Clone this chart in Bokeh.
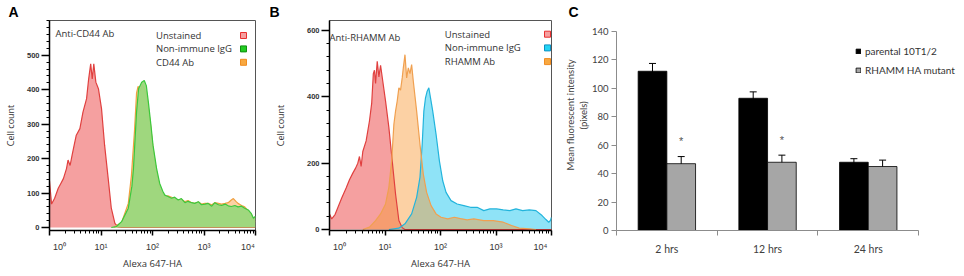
import numpy as np
from bokeh.plotting import figure
from bokeh.layouts import row
from bokeh.models import (Range1d, FixedTicker, Label, BoxAnnotation, ColumnDataSource,
                          Whisker, TeeHead, Legend, LegendItem, Title)
from bokeh.core.properties import value
from bokeh.embed import file_html
from bokeh.resources import INLINE

# ---------------- data ----------------
# Panels A and B: x = log10(Alexa 647-HA intensity), y = cell count
a_unstained_exp = [0.00, 0.04, 0.10, 0.17, 0.22, 0.27, 0.33, 0.36, 0.40, 0.44, 0.48, 0.52, 0.59,
                   0.65, 0.72, 0.76, 0.80, 0.83, 0.86, 0.90, 0.95, 1.01, 1.07, 1.14, 1.20, 1.27,
                   1.33, 1.40, 4.00]
a_unstained_cnt = [135, 68, 85, 114, 128, 142, 171, 196, 180, 211, 240, 268, 287,
                   335, 374, 431, 475, 431, 475, 422, 403, 345, 239, 142, 56, 12,
                   2, 0, 0]

a_igg_exp = [1.20, 1.30, 1.40, 1.53, 1.60, 1.63, 1.69, 1.73, 1.79, 1.84, 1.88, 1.92, 1.97, 2.01,
             2.08, 2.14, 2.20, 2.24, 2.30, 2.37, 2.43, 2.50, 2.56, 2.63, 2.69, 2.76, 2.82, 2.89,
             2.95, 3.02, 3.08, 3.15, 3.21, 3.28, 3.34, 3.41, 3.47, 3.53, 3.60, 3.66, 3.73, 3.79,
             3.86, 3.92, 3.96, 4.00]
a_igg_cnt = [0, 3, 17, 56, 120, 171, 335, 403, 422, 427, 412, 364, 297, 239,
             171, 128, 105, 94, 90, 85, 88, 80, 84, 72, 76, 72, 70, 75,
             66, 68, 70, 62, 72, 66, 64, 68, 63, 61, 64, 60, 62, 56,
             51, 40, 27, 33]

a_cd44_exp = [1.25, 1.40, 1.53, 1.59, 1.65, 1.69, 1.72, 1.76, 1.80, 1.85, 1.90, 1.96, 2.01, 2.08,
              2.14, 2.24, 2.30, 2.37, 2.43, 2.50, 2.56, 2.63, 2.69, 2.76, 2.82, 2.89, 2.95, 3.02,
              3.08, 3.15, 3.21, 3.28, 3.34, 3.41, 3.47, 3.53, 3.57, 3.62, 3.66, 3.73, 3.79, 3.86,
              3.92, 3.99]
a_cd44_cnt = [0, 15, 70, 150, 280, 390, 410, 395, 415, 400, 370, 300, 230, 160,
              110, 90, 92, 88, 84, 80, 82, 75, 78, 72, 70, 74, 68, 70,
              70, 66, 72, 70, 68, 70, 72, 80, 84, 76, 70, 64, 60, 48,
              38, 15]

b_unstained_exp = [0.00, 0.04, 0.10, 0.16, 0.22, 0.30, 0.36, 0.42, 0.47, 0.51, 0.54, 0.57, 0.60,
                   0.66, 0.72, 0.76, 0.79, 0.81, 0.83, 0.86, 0.89, 0.92, 0.96, 1.01, 1.07, 1.13,
                   1.19, 1.25, 1.31, 1.36, 4.00]
b_unstained_cnt = [47, 32, 45, 70, 95, 125, 150, 170, 185, 200, 220, 190, 235,
                   267, 327, 380, 470, 480, 440, 507, 460, 495, 447, 387, 307, 207,
                   107, 27, 5, 0, 0]

b_igg_exp = [1.07, 1.25, 1.36, 1.48, 1.57, 1.63, 1.67, 1.70, 1.73, 1.76, 1.79, 1.82, 1.86, 1.92,
             1.98, 2.04, 2.10, 2.19, 2.30, 2.42, 2.54, 2.66, 2.78, 2.89, 3.01, 3.13, 3.25, 3.36,
             3.48, 3.60, 3.72, 3.83, 3.90, 3.95, 3.98, 4.00]
b_igg_cnt = [0, 4, 17, 47, 97, 157, 257, 357, 397, 417, 427, 397, 357, 287,
             207, 147, 112, 87, 77, 72, 67, 67, 57, 62, 62, 59, 57, 62,
             57, 59, 57, 42, 30, 22, 27, 37]

b_rhamm_exp = [0.60, 0.72, 0.83, 0.92, 1.01, 1.07, 1.12, 1.16, 1.19, 1.22, 1.25, 1.28, 1.31,
               1.33, 1.36, 1.39, 1.42, 1.45, 1.48, 1.51, 1.57, 1.63, 1.69, 1.75, 1.83, 1.92,
               2.01, 2.13, 2.25, 2.36, 2.48, 2.60, 2.78, 2.95, 3.13, 3.28, 3.42, 3.60, 3.72]
b_rhamm_cnt = [0, 7, 27, 47, 77, 127, 207, 317, 357, 387, 427, 420, 457,
               487, 527, 457, 487, 470, 497, 447, 357, 257, 167, 112, 72, 47,
               37, 32, 37, 33, 29, 32, 27, 27, 22, 12, 4, 2, 0]

decade_ticks = [1, 10, 100, 1000, 10000]
decade_labels = ["\u2007\u2007\u2007\u200710\u2070", "10\u00b9", "10\u00b2", "10\u00b3",
                 "10\u2074\u2007\u2007\u2007"]
a_yticks = [0, 100, 200, 300, 400, 500]
b_yticks = [0, 200, 400, 600]

# Panel C
times = ["2 hrs", "12 hrs", "24 hrs"]
parental = [112, 93, 48]
parental_err = [5.5, 4.5, 2.5]
mutant = [47, 48, 45]
mutant_err = [5, 5, 4.5]
significance = ["*", "*", ""]
c_yticks = [0, 20, 40, 60, 80, 100, 120, 140]

# ---------------- styling ----------------
TXT = "#333333"
TICKF = "Liberation Sans"
LEGF = "Open Sans"
CF = "Lato"
H = 276
TOP = 19      # common frame top (frames are aligned across the row)
BOTTOM = 46   # common bottom border (frame bottom at y = 230)


def panel_letter(p, letter, offset):
    p.title.text = letter
    p.title.align = "left"
    p.title.offset = offset
    p.title.standoff = 2
    p.title.text_font = TICKF
    p.title.text_font_size = "14px"
    p.title.text_font_style = "bold"
    p.title.text_color = "black"


def hist_figure(width, left, right, yr, yticks, yminor_step, ymax_tick, ylab_standoff):
    p = figure(width=width, height=H, x_axis_type="log", x_range=Range1d(1, 1e4),
               y_range=Range1d(*yr), output_backend="svg", toolbar_location=None,
               min_border_left=left, min_border_right=right, min_border_top=TOP,
               min_border_bottom=BOTTOM)
    p.grid.visible = False
    p.outline_line_color = "#555555"
    p.outline_line_width = 1
    minor_x = [m * 10 ** d for d in range(4) for m in range(2, 10)]
    p.xaxis.ticker = FixedTicker(ticks=decade_ticks, minor_ticks=minor_x)
    p.xaxis.major_label_overrides = {float(t): lab for t, lab in zip(decade_ticks, decade_labels)}
    p.yaxis.ticker = FixedTicker(ticks=yticks,
                                 minor_ticks=list(range(0, ymax_tick + 1, yminor_step)))
    for ax in (p.xaxis[0], p.yaxis[0]):
        ax.axis_line_color = "black"
        ax.axis_line_width = 1.5
        ax.major_tick_line_color = "black"
        ax.major_tick_line_width = 1.5
        ax.minor_tick_line_color = "black"
        ax.minor_tick_line_width = 1
        ax.major_tick_in = 0
        ax.minor_tick_in = 0
        ax.minor_tick_out = 3
        ax.major_label_text_color = TXT
        ax.axis_label_text_color = TXT
        ax.axis_label_text_font = LEGF
        ax.axis_label_text_font_style = "normal"
    p.xaxis.major_tick_out = 5
    p.xaxis.major_label_standoff = 6
    p.xaxis.major_label_text_font = TICKF
    p.xaxis.major_label_text_font_size = "9px"
    p.xaxis.axis_label = "Alexa 647-HA"
    p.xaxis.axis_label_text_font_size = "9.5px"
    p.xaxis.axis_label_standoff = 2
    p.yaxis.major_tick_out = 8
    p.yaxis.major_label_standoff = 2
    p.yaxis.major_label_text_font = TICKF
    p.yaxis.major_label_text_font_style = "bold"
    p.yaxis.major_label_text_font_size = "7.5px"
    p.yaxis.axis_label = "Cell count"
    p.yaxis.axis_label_text_font_size = "9px"
    p.yaxis.axis_label_standoff = ylab_standoff
    return p


def fill(p, exps, cnts, color, alpha):
    p.varea(x=np.power(10.0, exps), y1=0, y2=cnts, fill_color=color, fill_alpha=alpha)


def outline(p, exps, cnts, color):
    p.line(x=np.power(10.0, exps), y=cnts, line_color=color, line_width=1.2)


def note(p, x, y, text, size="9.5px", font=LEGF, color=TXT):
    # canvas units: x from the figure's left edge, y from its top edge
    p.add_layout(Label(x=x, y=y, x_units="canvas", y_units="canvas", text=text,
                       text_font=font, text_font_size=size, text_color=color,
                       text_baseline="middle"))


def swatch(p, cx, cy, fillc, linec):
    # screen units: relative to the frame's bottom-left corner
    p.add_layout(BoxAnnotation(left=cx - 3, right=cx + 3, bottom=cy - 3, top=cy + 3,
                               left_units="screen", right_units="screen",
                               top_units="screen", bottom_units="screen",
                               fill_color=fillc, fill_alpha=1, line_color=linec,
                               line_width=1, line_alpha=1))


legend_a = [("Unstained", "#f5a0a0", "#e83030"),
            ("Non-immune IgG", "#22cc22", "#129012"),
            ("CD44 Ab", "#f8a840", "#f08c20")]
legend_b = [("Unstained", "#f5a0a0", "#e83030"),
            ("Non-immune IgG", "#22d4f4", "#1090c0"),
            ("RHAMM Ab", "#f8a840", "#f08c20")]

# ---------------- Panel A (canvas x 0..270) ----------------
pa = hist_figure(270, 48, 15, (-8.7, 601), a_yticks, 20, 600, 7)
panel_letter(pa, "A", -41)
fill(pa, a_unstained_exp, a_unstained_cnt, "#f5a0a0", 1.0)
outline(pa, a_unstained_exp, a_unstained_cnt, "#e0403f")
fill(pa, a_cd44_exp, a_cd44_cnt, "#f89935", 0.45)
outline(pa, a_cd44_exp, a_cd44_cnt, "#f0a040")
fill(pa, a_igg_exp, a_igg_cnt, "#9ad77c", 0.95)
outline(pa, a_igg_exp, a_igg_cnt, "#3cc83c")

note(pa, 55, 33, "Anti-CD44 Ab")
for i, (lab, fc, lc) in enumerate(legend_a):
    yy = 35 + 13.4 * i
    note(pa, 155.5, yy, lab)
    swatch(pa, 194, 230 - yy, fc, lc)

# ---------------- Panel B (canvas x 270..562) ----------------
pb = hist_figure(292, 53, 11, (-3, 630), b_yticks, 40, 600, 17)
panel_letter(pb, "B", -60)
fill(pb, b_unstained_exp, b_unstained_cnt, "#f5a0a0", 1.0)
fill(pb, b_igg_exp, b_igg_cnt, "#8fe3f7", 1.0)
fill(pb, b_rhamm_exp, b_rhamm_cnt, "#f89935", 0.45)
outline(pb, b_unstained_exp, b_unstained_cnt, "#e0403f")
outline(pb, b_igg_exp, b_igg_cnt, "#22b4dc")
outline(pb, b_rhamm_exp, b_rhamm_cnt, "#f0a050")

note(pb, 59, 36.5, "Anti-RHAMM Ab")
for i, (lab, fc, lc) in enumerate(legend_b):
    yy = 33.7 + 13.7 * i
    note(pb, 174.3, yy, lab)
    swatch(pb, 218, 230 - yy, fc, lc)

# ---------------- Panel C (canvas x 562..964) ----------------
pc = figure(width=402, height=H, x_range=Range1d(0, 3.436), y_range=Range1d(0, 147.7),
            output_backend="svg", toolbar_location=None,
            min_border_left=53, min_border_right=2, min_border_top=TOP, min_border_bottom=BOTTOM)
pc.grid.visible = False
pc.outline_line_color = None
panel_letter(pc, "C", -48)

xc = np.arange(len(times)) + 0.5
bw = 0.285
par = np.array(parental, dtype=float)
mut = np.array(mutant, dtype=float)
pe = np.array(parental_err, dtype=float)
me = np.array(mutant_err, dtype=float)
src = ColumnDataSource(dict(x_par=xc - bw / 2, x_mut=xc + bw / 2, parental=par, mutant=mut,
                            par_lo=par - pe, par_hi=par + pe, mut_lo=mut - me, mut_hi=mut + me,
                            star_y=mut + me + 11, sig=significance))
r1 = pc.vbar(x="x_par", top="parental", bottom=0, width=bw, source=src,
             fill_color="black", line_color="black", line_width=0.8)
r2 = pc.vbar(x="x_mut", top="mutant", bottom=0, width=bw, source=src,
             fill_color="#a6a6a6", line_color="black", line_width=0.8)
for base, lo, hi in (("x_par", "par_lo", "par_hi"), ("x_mut", "mut_lo", "mut_hi")):
    pc.add_layout(Whisker(source=src, base=base, lower=lo, upper=hi, line_color="black",
                          line_width=1,
                          upper_head=TeeHead(size=7, line_color="black", line_width=1),
                          lower_head=TeeHead(size=7, line_color="black", line_width=1)))
pc.text(x="x_mut", y="star_y", text="sig", source=src, text_align="center",
        text_baseline="middle", text_font=value(TICKF), text_font_size="11px",
        text_color="#555555")

pc.xaxis.ticker = FixedTicker(ticks=list(xc), minor_ticks=list(range(len(times) + 1)))
pc.xaxis.major_label_overrides = {float(x): t for x, t in zip(xc, times)}
pc.xaxis.bounds = (0, len(times))
pc.yaxis.ticker = FixedTicker(ticks=c_yticks, minor_ticks=[])
pc.yaxis.bounds = (0, max(c_yticks))
for ax in (pc.xaxis[0], pc.yaxis[0]):
    ax.axis_line_color = "#8c8c8c"
    ax.major_tick_line_color = "#8c8c8c"
    ax.minor_tick_line_color = "#8c8c8c"
    ax.major_tick_in = 0
    ax.minor_tick_in = 0
    ax.major_label_text_font = CF
    ax.major_label_text_color = "#404040"
pc.xaxis.major_label_text_font_size = "10.5px"
pc.yaxis.major_label_text_font_size = "9.5px"
pc.xaxis.major_tick_out = 0
pc.xaxis.minor_tick_out = 5
pc.xaxis.major_label_standoff = 7
pc.yaxis.major_tick_out = 5
pc.yaxis.major_label_standoff = 3

# y-axis title of C as two stacked side titles (outermost line added last);
# align="left" starts each line at the frame bottom minus offset (reading upwards)
for txt, off in (("(pixels)", 101), ("Mean fluorescent intensity", 60)):
    pc.add_layout(Title(text=txt, align="left", offset=off, standoff=0,
                        text_font=CF, text_font_size="9.5px", text_font_style="normal",
                        text_color="#404040"), "left")

legend = Legend(items=[LegendItem(label="parental 10T1/2", renderers=[r1]),
                       LegendItem(label="RHAMM HA mutant", renderers=[r2])],
                location=(239, 152), glyph_width=6, glyph_height=6, label_height=16,
                spacing=3, padding=2, margin=0, label_standoff=4, border_line_color=None,
                background_fill_alpha=0, label_text_font=CF, label_text_font_size="10px",
                label_text_color="#333333")
pc.add_layout(legend)

layout = row(pa, pb, pc)
open("out.html", "w").write(file_html(layout, INLINE))
